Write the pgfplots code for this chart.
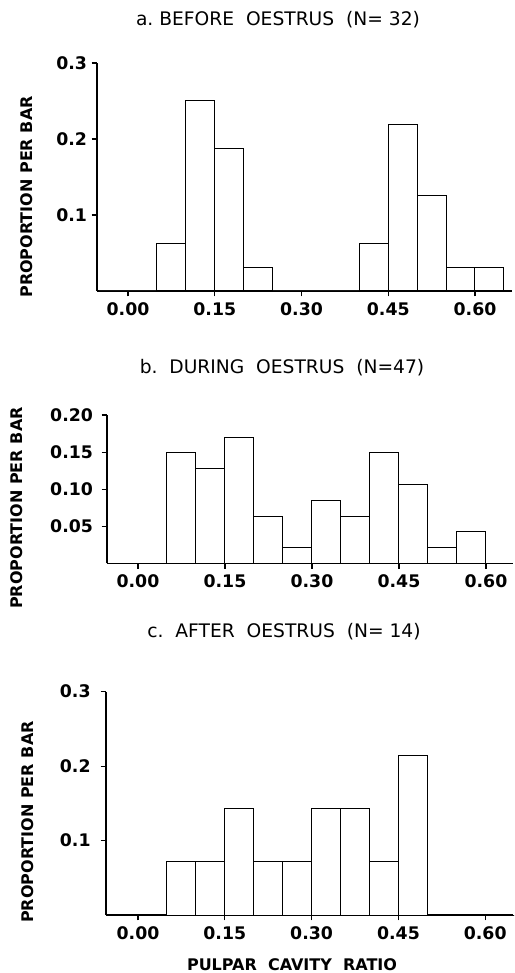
\documentclass[border=0pt]{standalone}
\usepackage{pgfplots}
\pgfplotsset{compat=1.18}
\usepackage{fontspec}
\setmainfont{DejaVu Sans}
\begin{document}
\begin{tikzpicture}
\pgfplotsset{
  hist/.style={
    scale only axis,
    anchor=south west,
    axis lines=left,
    axis line style={-, line width=1pt},
    tick align=outside,
    major tick length=4pt,
    tick style={line width=0.9pt, black},
    ymin=0,
    xtick={0,0.15,0.30,0.45,0.60},
    xticklabels={0.00,0.15,0.30,0.45,0.60},
    /pgf/number format/assume math mode=true,
    ticklabel style={font=\bfseries\fontsize{13}{14}\selectfont},
    xticklabel style={yshift=-1pt},
    clip=false,
  },
  bars/.style={ybar interval, draw=black, fill=white, line width=0.75pt},
}
% Panel a
\begin{axis}[hist, at={(72.75pt,-218.25pt)}, width=311.25pt, height=171pt,
  xmin=-0.0536, xmax=0.664, ymax=0.3,
  ytick={0.1,0.2,0.3}, yticklabels={0.1,0.2,0.3}]
\addplot[bars] coordinates {
(-0.05,0) (0.00,0) (0.05,0.0625) (0.10,0.25) (0.15,0.1875) (0.20,0.03125)
(0.25,0) (0.30,0) (0.35,0) (0.40,0.0625) (0.45,0.21875) (0.50,0.125)
(0.55,0.03125) (0.60,0.03125) (0.65,0)};
\end{axis}
% Panel b
\begin{axis}[hist, at={(80.25pt,-422.5pt)}, width=304.5pt, height=111.2pt,
  xmin=-0.0534, xmax=0.6466, ymax=0.2,
  ytick={0.05,0.10,0.15,0.20}, yticklabels={0.05,0.10,0.15,0.20},
  yticklabel style={xshift=-3pt}]
\addplot[bars] coordinates {
(-0.05,0) (0.00,0) (0.05,0.1489) (0.10,0.1277) (0.15,0.1702) (0.20,0.0638)
(0.25,0.0213) (0.30,0.0851) (0.35,0.0638) (0.40,0.1489) (0.45,0.1064)
(0.50,0.0213) (0.55,0.0426) (0.60,0)};
\end{axis}
% Panel c
\begin{axis}[hist, at={(79.5pt,-686.25pt)}, width=305.25pt, height=167.5pt,
  xmin=-0.0553, xmax=0.648, ymax=0.3,
  ytick={0.1,0.2,0.3}, yticklabels={0.1,0.2,0.3},
  yticklabel style={xshift=-4pt}]
\addplot[bars] coordinates {
(-0.05,0) (0.00,0) (0.05,0.0714) (0.10,0.0714) (0.15,0.1429) (0.20,0.0714)
(0.25,0.0714) (0.30,0.1429) (0.35,0.1429) (0.40,0.0714) (0.45,0.2143)
(0.50,0) (0.55,0) (0.60,0) (0.65,0)};
\end{axis}
% titles and labels
\node[font=\fontsize{14}{15}\selectfont] at (208.5pt,-15pt) {a.\ BEFORE\ \ OESTRUS\ \ (N=\ 32)};
\node[font=\fontsize{14}{15}\selectfont] at (211.5pt,-276pt) {b.\ \ DURING\ \ OESTRUS\ \ (N=47)};
\node[font=\fontsize{14}{15}\selectfont] at (213pt,-474pt) {c.\ \ AFTER\ \ OESTRUS\ \ (N=\ 14)};
\node[font=\bfseries\fontsize{12}{13}\selectfont] at (219pt,-723.75pt) {PULPAR\ \ CAVITY\ \ RATIO};
\node[font=\bfseries\fontsize{12}{13}\selectfont, rotate=90] at (20.25pt,-147.75pt) {PROPORTION PER BAR};
\node[font=\bfseries\fontsize{12}{13}\selectfont, rotate=90] at (12.75pt,-381pt) {PROPORTION PER BAR};
\node[font=\bfseries\fontsize{12}{13}\selectfont, rotate=90] at (21pt,-616.5pt) {PROPORTION PER BAR};
\pgfresetboundingbox
\useasboundingbox (0,0) rectangle (385.5pt,-729.75pt);
\end{tikzpicture}
\end{document}
